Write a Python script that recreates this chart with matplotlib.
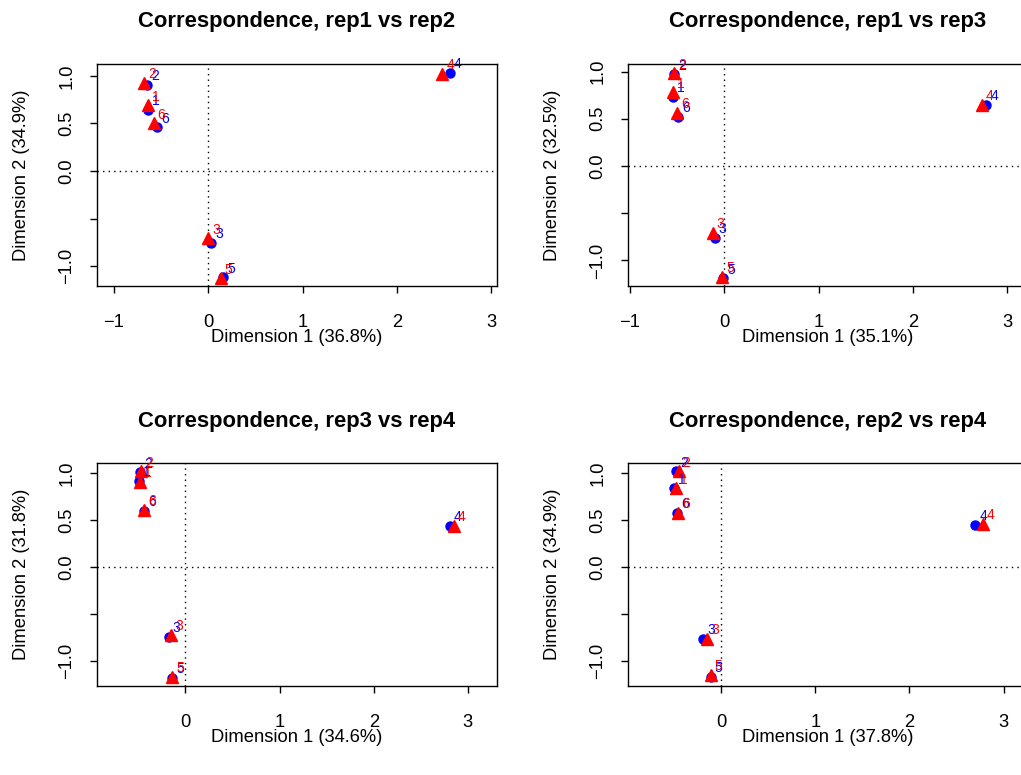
import numpy as np
import matplotlib
matplotlib.use('Agg')
import matplotlib.pyplot as plt

plt.rcParams['font.family'] = ['Liberation Sans', 'DejaVu Sans']

# point labels (same order in every panel)
labels = ['1', '2', '3', '4', '5', '6']

# panel titles and axis labels
titles = ['Correspondence, rep1 vs rep2', 'Correspondence, rep1 vs rep3',
          'Correspondence, rep3 vs rep4', 'Correspondence, rep2 vs rep4']
xlabels = ['Dimension 1 (36.8%)', 'Dimension 1 (35.1%)',
           'Dimension 1 (34.6%)', 'Dimension 1 (37.8%)']
ylabels = ['Dimension 2 (34.9%)', 'Dimension 2 (32.5%)',
           'Dimension 2 (31.8%)', 'Dimension 2 (34.9%)']

# blue circles (first replicate) and red triangles (second replicate)
blue_x = [[-0.64, -0.65, 0.03, 2.56, 0.16, -0.54],
          [-0.54, -0.53, -0.10, 2.78, -0.01, -0.49],
          [-0.49, -0.48, -0.18, 2.81, -0.14, -0.44],
          [-0.50, -0.48, -0.19, 2.70, -0.11, -0.47]]
blue_y = [[0.64, 0.91, -0.76, 1.03, -1.12, 0.46],
          [0.73, 0.97, -0.76, 0.65, -1.19, 0.52],
          [0.92, 1.01, -0.74, 0.44, -1.18, 0.60],
          [0.84, 1.02, -0.76, 0.45, -1.17, 0.58]]
red_x = [[-0.64, -0.68, 0.00, 2.48, 0.13, -0.58],
         [-0.54, -0.53, -0.12, 2.73, -0.02, -0.50],
         [-0.48, -0.47, -0.15, 2.85, -0.14, -0.44],
         [-0.48, -0.45, -0.15, 2.78, -0.11, -0.46]]
red_y = [[0.69, 0.93, -0.71, 1.02, -1.13, 0.50],
         [0.78, 0.98, -0.71, 0.65, -1.17, 0.56],
         [0.91, 1.02, -0.72, 0.44, -1.17, 0.61],
         [0.84, 1.02, -0.76, 0.46, -1.15, 0.58]]

xlims = [(-1.18, 3.06), (-1.02, 3.22), (-0.94, 3.31), (-0.99, 3.26)]
ylims = [(-1.21, 1.126), (-1.27, 1.08), (-1.266, 1.11), (-1.266, 1.11)]

W, H = 1021, 775
fig = plt.figure(figsize=(W / 100, H / 100), dpi=100)

# axes boxes in pixels: left, top, right, bottom (right column runs off the image)
boxes = [(97, 64, 497, 286), (628, 64, 1028, 286),
         (97, 463, 497, 686), (628, 463, 1028, 686)]

for i in range(4):
    l, t, r, b = boxes[i]
    ax = fig.add_axes([l / W, 1 - b / H, (r - l) / W, (b - t) / H])
    ax.set_xlim(*xlims[i])
    ax.set_ylim(*ylims[i])
    ax.axhline(0, color='black', lw=1, ls=(0, (1, 3)))
    ax.axvline(0, color='black', lw=1, ls=(0, (1, 3)))
    ax.plot(blue_x[i], blue_y[i], 'o', color='blue', ms=6.5, ls='none')
    ax.plot(red_x[i], red_y[i], '^', color='red', ms=8, ls='none')
    for k in range(len(labels)):
        ax.annotate(labels[k], (blue_x[i][k], blue_y[i][k]), xytext=(5.6, 6.3),
                    textcoords='offset points', color='blue', fontsize=10,
                    ha='center', va='center')
        ax.annotate(labels[k], (red_x[i][k], red_y[i][k]), xytext=(5.6, 6.3),
                    textcoords='offset points', color='red', fontsize=10,
                    ha='center', va='center')

    xt = [v for v in [-1, 0, 1, 2, 3] if xlims[i][0] <= v <= xlims[i][1]]
    ax.set_xticks(xt)
    ax.set_xticklabels(['\u22121' if v == -1 else str(v) for v in xt], fontsize=13.2)
    ax.set_yticks([-1.0, -0.5, 0.0, 0.5, 1.0])
    ax.set_yticklabels(['\u22121.0', '', '0.0', '0.5', '1.0'], fontsize=13.2,
                       rotation=90, va='center')
    ax.tick_params(direction='out', length=5, width=1)
    ax.tick_params(axis='x', pad=15.5)
    ax.tick_params(axis='y', pad=10.5)
    for s in ax.spines.values():
        s.set_linewidth(1)

    ax.set_xlabel(xlabels[i], fontsize=13.2)
    ax.xaxis.label.set_va('center')
    ax.xaxis.set_label_coords(0.5, -52 / (b - t))
    ax.set_ylabel(ylabels[i], fontsize=13.2)
    ax.yaxis.label.set_va('center')
    ax.yaxis.set_label_coords(-76 / (r - l), 0.5)
    ax.text(0.5, 1 + 42 / (b - t), titles[i], transform=ax.transAxes,
            ha='center', va='center', fontsize=15.8, fontweight='bold')

fig.savefig('out.png', dpi=100)
